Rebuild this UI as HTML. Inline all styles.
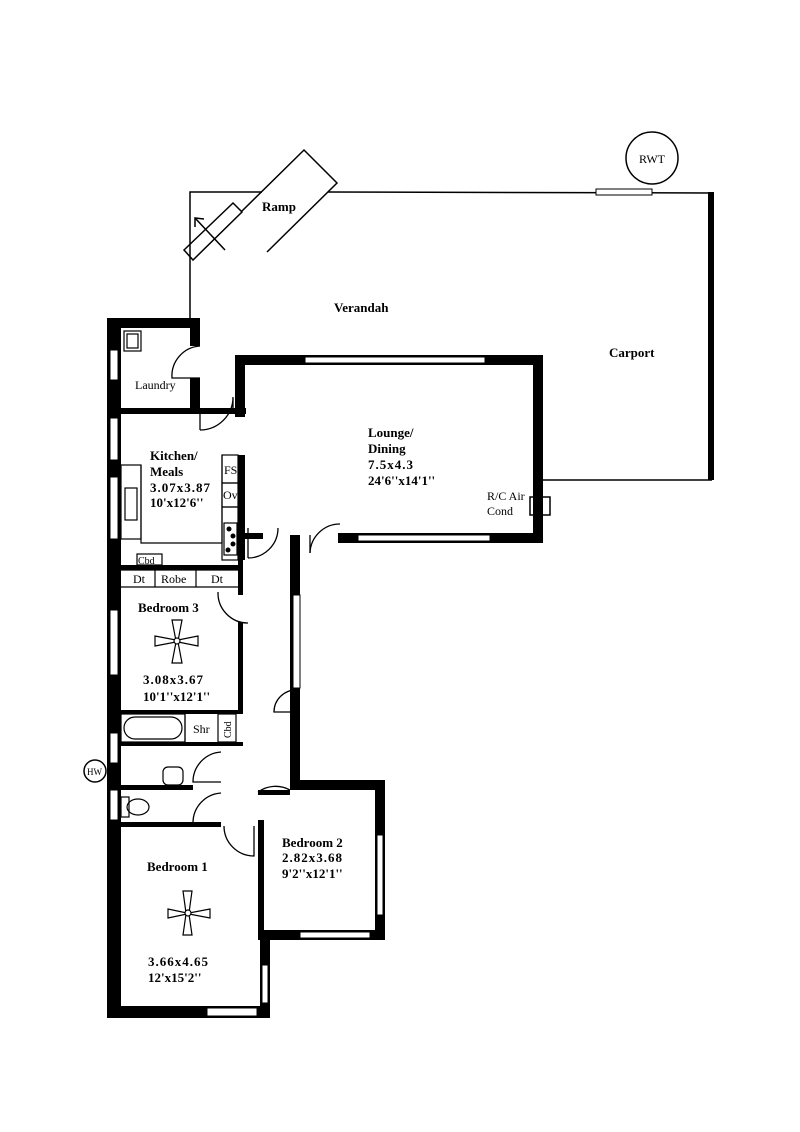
<!DOCTYPE html>
<html><head><style>
html,body{margin:0;padding:0;background:#fff;}
svg{display:block;}
text{font-family:"Liberation Serif",serif;fill:#000;}
.b{font-weight:bold;font-size:13px;}
.s{font-size:12px;}
</style></head><body>
<svg width="800" height="1132" viewBox="0 0 800 1132" xmlns="http://www.w3.org/2000/svg">
<g fill="none" stroke="#000" stroke-width="1.5">
<!-- verandah outline -->
<polyline points="190,318 190,192 262,192"/>
<line x1="328" y1="192" x2="712" y2="193"/>
<line x1="543" y1="480" x2="712" y2="480"/>
<!-- ramp -->
<polyline points="242,211 304,150 337,183 267,252"/>
<polygon points="184,250 233,203 242,212 193,260"/>
<line x1="225" y1="250" x2="195" y2="218"/>
<polyline points="195,227 195,218 204,219"/>
<circle cx="652" cy="158" r="26"/>
<circle cx="95" cy="771" r="11"/>
</g>
<!-- carport wall -->
<rect x="708" y="192" width="6" height="288" fill="#000"/>
<rect x="596" y="189" width="56" height="6" fill="#fff" stroke="#000"/>
<rect x="530" y="497" width="20" height="18" fill="#fff" stroke="#000" stroke-width="1.5"/>
<g fill="#000">
<!-- outer left wall -->
<rect x="107" y="318" width="14" height="700"/>
<rect x="107" y="1006" width="163" height="12"/>
<rect x="260" y="935" width="10" height="83"/>
<rect x="107" y="318" width="93" height="10"/>
<rect x="190" y="318" width="10" height="28"/>
<rect x="190" y="378" width="10" height="34"/>
<rect x="121" y="408" width="125" height="6"/>
<!-- lounge -->
<rect x="235" y="355" width="308" height="10"/>
<rect x="533" y="355" width="10" height="188"/>
<rect x="338" y="533" width="205" height="10"/>
<rect x="235" y="355" width="10" height="62"/>
<rect x="238" y="455" width="7" height="105"/>
<rect x="245" y="533" width="18" height="6"/>
<!-- corridor right wall -->
<rect x="290" y="535" width="10" height="255"/>
<!-- bedroom 2 -->
<rect x="290" y="780" width="95" height="10"/>
<rect x="375" y="780" width="10" height="160"/>
<rect x="262" y="930" width="123" height="10"/>
<rect x="258" y="820" width="6" height="120"/>
<!-- interior walls -->
<rect x="121" y="565" width="122" height="5"/>
<rect x="238" y="560" width="5" height="35"/>
<rect x="238" y="622" width="5" height="92"/>
<rect x="121" y="710" width="122" height="4"/>
<rect x="121" y="742" width="122" height="4"/>
<rect x="121" y="785" width="72" height="5"/>
<rect x="121" y="822" width="100" height="5"/>
<rect x="258" y="790" width="32" height="5"/>
</g>
<!-- windows (white inserts) -->
<g fill="#fff" stroke="#000" stroke-width="1">
<rect x="110" y="350" width="8" height="30"/>
<rect x="110" y="418" width="8" height="42"/>
<rect x="110" y="477" width="8" height="62"/>
<rect x="110" y="610" width="8" height="65"/>
<rect x="110" y="733" width="8" height="30"/>
<rect x="110" y="790" width="8" height="30"/>
<rect x="305" y="357" width="180" height="6"/>
<rect x="358" y="535" width="132" height="6"/>
<rect x="293" y="595" width="7" height="93"/>
<rect x="377" y="835" width="6" height="80"/>
<rect x="300" y="932" width="70" height="6"/>
<rect x="262" y="965" width="6" height="38"/>
<rect x="207" y="1008" width="50" height="8"/>
</g>
<!-- doors -->
<g fill="none" stroke="#000" stroke-width="1.3">
<path d="M200,346 A30,30 0 0 0 172,378 L200,378"/>
<path d="M200,430 A33,33 0 0 0 233,397 L233,412"/>
<line x1="200" y1="412" x2="200" y2="430"/>
<path d="M248,558 A30,30 0 0 0 278,528"/>
<line x1="248" y1="528" x2="248" y2="558"/>
<path d="M310,553 A30,30 0 0 1 340,524"/>
<line x1="310" y1="535" x2="310" y2="553"/>
<path d="M218,592 A30,30 0 0 0 248,623"/>
<path d="M296,690 A22,22 0 0 0 274,712 L296,712"/>
<path d="M221,752 A30,30 0 0 0 193,782 L221,782"/>
<path d="M221,793 A30,30 0 0 0 193,822"/>
<path d="M224,826 A30,30 0 0 0 254,856 L254,826"/>
<path d="M258,792 A30,30 0 0 1 290,790"/>
</g>
<!-- fixtures -->
<g fill="none" stroke="#000" stroke-width="1.2">
<rect x="124" y="331" width="17" height="20"/><rect x="127" y="334" width="11" height="14"/>
<rect x="121" y="465" width="20" height="74"/>
<rect x="125" y="488" width="12" height="32"/>
<polyline points="141,465 141,543 222,543 222,455"/>
<rect x="222" y="455" width="16" height="28"/>
<rect x="222" y="483" width="16" height="24"/>
<rect x="222" y="507" width="16" height="53"/>
<rect x="224" y="523" width="13" height="32"/>
<rect x="137" y="554" width="25" height="11"/>
<line x1="121" y1="570" x2="238" y2="570"/>
<line x1="121" y1="587" x2="238" y2="587"/>
<line x1="155" y1="570" x2="155" y2="587"/>
<line x1="196" y1="570" x2="196" y2="587"/>
<rect x="121" y="714" width="64" height="28"/>
<rect x="124" y="717" width="58" height="22" rx="11"/>
<line x1="185" y1="714" x2="185" y2="742"/>
<rect x="218" y="714" width="18" height="28"/>
<rect x="163" y="767" width="20" height="18" rx="5"/>
<rect x="121" y="797" width="8" height="20"/>
<ellipse cx="138" cy="807" rx="11" ry="8"/>
</g>
<g fill="#000">
<circle cx="229" cy="529" r="2.5"/><circle cx="233" cy="536" r="2.5"/><circle cx="233" cy="544" r="2.5"/><circle cx="228" cy="550" r="2.5"/>
</g>
<!-- fans -->
<g fill="#fff" stroke="#000" stroke-width="1.2">
<polygon points="172,620 182,620 178,641 176,641"/>
<polygon points="172,663 182,663 178,642 176,642"/>
<polygon points="155,636 155,646 176,642 176,640"/>
<polygon points="198,636 198,646 178,642 178,640"/>
<circle cx="177" cy="641" r="3"/>
<polygon points="183,891 192,891 189,913 186,913"/>
<polygon points="183,935 192,935 189,914 186,914"/>
<polygon points="168,909 168,918 187,914 187,913"/>
<polygon points="210,909 210,918 189,914 189,913"/>
<circle cx="188" cy="913" r="3"/>
</g>
<!-- labels -->
<text x="262" y="211" class="b">Ramp</text>
<text x="334" y="312" class="b">Verandah</text>
<text x="609" y="357" class="b">Carport</text>
<text x="639" y="163" class="s">RWT</text>
<text x="87" y="775" style="font-size:9px">HW</text>
<text x="135" y="389" class="s">Laundry</text>
<text x="150" y="460" class="b">Kitchen/</text>
<text x="150" y="476" class="b">Meals</text>
<text x="150" y="492" class="b" style="letter-spacing:1px">3.07x3.87</text>
<text x="150" y="507" class="b">10'x12'6''</text>
<text x="224" y="474" class="s">FS</text>
<text x="223" y="499" class="s">Ov</text>
<text x="138" y="564" style="font-size:10px">Cbd</text>
<text x="133" y="583" class="s">Dt</text>
<text x="161" y="583" class="s">Robe</text>
<text x="211" y="583" class="s">Dt</text>
<text x="368" y="437" class="b">Lounge/</text>
<text x="368" y="453" class="b">Dining</text>
<text x="368" y="469" class="b" style="letter-spacing:1px">7.5x4.3</text>
<text x="368" y="485" class="b">24'6''x14'1''</text>
<text x="487" y="500" class="s">R/C Air</text>
<text x="487" y="515" class="s">Cond</text>
<text x="138" y="612" class="b">Bedroom  3</text>
<text x="143" y="684" class="b" style="letter-spacing:1px">3.08x3.67</text>
<text x="143" y="701" class="b">10'1''x12'1''</text>
<text x="193" y="733" class="s">Shr</text>
<text x="231" y="738" style="font-size:10px" transform="rotate(-90 231 738)">Cbd</text>
<text x="147" y="871" class="b">Bedroom  1</text>
<text x="148" y="966" class="b" style="letter-spacing:1px">3.66x4.65</text>
<text x="148" y="982" class="b">12'x15'2''</text>
<text x="282" y="847" class="b">Bedroom  2</text>
<text x="282" y="862" class="b" style="letter-spacing:1px">2.82x3.68</text>
<text x="282" y="878" class="b">9'2''x12'1''</text>
</svg>
</body></html>
